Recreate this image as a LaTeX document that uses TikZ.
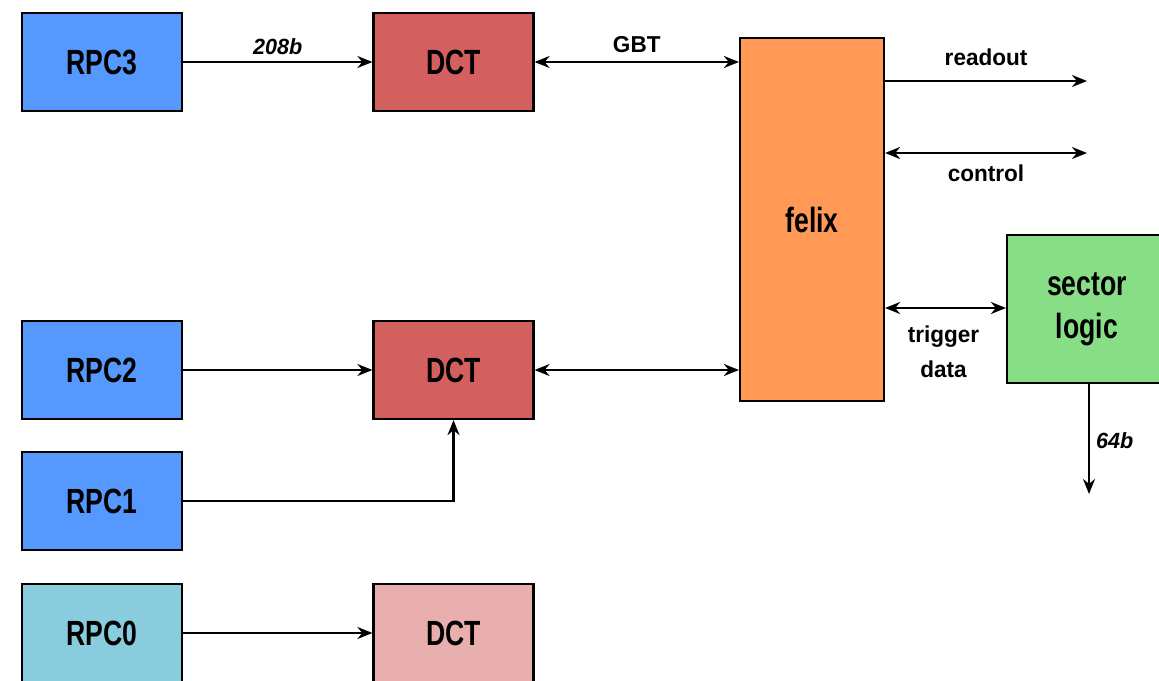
\documentclass[tikz,border=0pt]{standalone}
\usepackage{fontspec}
\usetikzlibrary{arrows.meta}
\newfontfamily\boxfont{Liberation Sans}[FakeStretch=0.76]
\newfontfamily\lblfont{Liberation Sans}[FakeStretch=0.98]
\definecolor{rpcblue}{HTML}{5599FF}
\definecolor{rpccyan}{HTML}{88CCDD}
\definecolor{dctred}{HTML}{D35F5F}
\definecolor{dctpink}{HTML}{E9AFAF}
\definecolor{felixor}{HTML}{FF9955}
\definecolor{slgreen}{HTML}{87DE87}
\tikzset{
  blk/.style={draw=black, line width=2.2pt, minimum width=160pt, minimum height=98pt, inner sep=0pt,
    font=\boxfont\bfseries\fontsize{35}{43}\selectfont, align=center},
  lbl/.style={font=\lblfont\bfseries\fontsize{23}{35}\selectfont, align=center, inner sep=3pt},
  ilbl/.style={font=\lblfont\bfseries\itshape\fontsize{22}{26}\selectfont, inner sep=3pt},
  tip/.style={Stealth[length=15pt,width=12pt]},
  arr/.style={line width=2.2pt, -{Stealth[length=15pt,width=12pt]}},
  darr/.style={line width=2.2pt, {Stealth[length=15pt,width=12pt]}-{Stealth[length=15pt,width=12pt]}}
}
\begin{document}
\begin{tikzpicture}[x=1pt,y=-1pt]
\useasboundingbox (0,0) rectangle (1159,680);
\clip (0,0) rectangle (1159,680);
\node[blk, fill=rpcblue] (rpc3) at (102,62) {RPC3};
\node[blk, fill=dctred] (dct3) at (453.5,62) {DCT};
\node[blk, fill=rpcblue] (rpc2) at (102,370) {RPC2};
\node[blk, fill=dctred] (dct2) at (453.5,370) {DCT};
\node[blk, fill=rpcblue] (rpc1) at (102,501) {RPC1};
\node[blk, fill=rpccyan] (rpc0) at (102,633) {RPC0};
\node[blk, fill=dctpink] (dct0) at (453.5,633) {DCT};
\node[blk, fill=felixor, minimum width=144pt, minimum height=363pt] (felix) at (812,219.5) {felix};
\node[blk, fill=slgreen, minimum width=160pt, minimum height=148pt] (sl) at (1087,309) {sector\\logic};

\coordinate (ro) at (1087,81);
\coordinate (co) at (1087,153);
\coordinate (tr) at (0,308);
\coordinate (so) at (1089,494);

\draw[arr] (rpc3) -- node[ilbl, above, yshift=3pt] {208b} (dct3);
\draw[darr] (dct3) -- node[lbl, above, yshift=5pt] {GBT} (felix.west |- dct3);
\draw[arr] (felix.east |- ro) -- node[lbl, above, yshift=11pt] {readout} (ro);
\draw[darr] (felix.east |- co) -- node[lbl, below, yshift=-8pt] {control} (co);
\draw[darr] (felix.east |- tr) -- node[lbl, below, yshift=-14pt, xshift=-2pt] {trigger\\data} (sl.west |- tr);
\draw[arr] (sl.south -| so) -- node[ilbl, right, pos=0.55, xshift=3pt, yshift=4pt] {64b} (so);
\draw[arr] (rpc2) -- (dct2);
\draw[darr] (dct2) -- (felix.west |- dct2);
\draw[arr] (rpc1.east) -| (dct2.south);
\draw[arr] (rpc0) -- (dct0);
\end{tikzpicture}
\end{document}
